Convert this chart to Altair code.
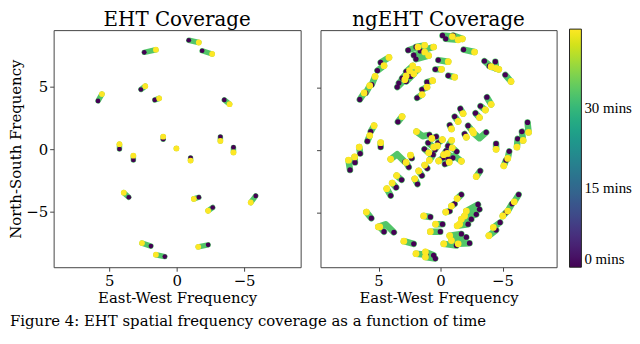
import altair as alt
import pandas as pd

# ---------------- EHT tracks: start (t = 0 min) -> end (t = 45 min) ----------------
eht_u0 = [2.40, -0.90, -1.89, 5.83, 2.65, 1.62, -3.53, 4.24, 3.21, 1.00, 0.02,
          -1.03, -3.24, -4.21, 3.55, -1.64, -2.67, -5.86, 1.91, -2.33, 0.88]
eht_v0 = [7.77, 8.74, 7.90, 3.88, 4.80, 3.96, 3.96, 0.03, -0.84, 0.81, 0.08,
          -0.68, 1.00, 0.16, -3.83, -3.83, -4.65, -3.72, -7.74, -7.64, -8.58]
eht_u1 = [1.54, -1.64, -2.63, 5.54, 2.33, 1.30, -3.92, 4.24, 3.21, 1.00, 0.02,
          -1.03, -3.24, -4.21, 3.92, -1.27, -2.33, -5.49, 2.57, -1.60, 1.54]
eht_v1 = [7.98, 8.56, 7.64, 4.43, 5.06, 4.09, 3.62, 0.42, -0.50, 1.02, 0.08,
          -0.89, 0.68, -0.24, -3.46, -3.96, -4.91, -4.25, -7.50, -7.80, -8.43]

# ---------------- ngEHT straight tracks ----------------
ng_u0 = [2.61, 1.98, 1.63, 2.16, 1.98, 4.83, 5.09, 5.55, 6.03, 6.51, 2.77, 3.10, 3.36,
         3.49, 2.42, 2.77, 1.09, 1.49, 1.89, 0.42, 0.18, 3.44, 5.90, 5.63, 4.83,
         7.30, 6.90, 6.48, 2.32, 2.56, 3.14, 3.58, 4.02, 1.86, 1.50, 1.07, 5.58, 4.56,
         2.16, 1.18, 0.56, 0.42, 0.82, -0.16, 0.02,
         -0.16, -0.42, -1.02, -1.86, -0.62, -3.54, -4.42, -3.94, -5.22, -3.74, -3.22,
         -2.82, -1.60, -1.14, -0.74, -2.22, -1.94, -7.02, -6.56, -6.22, -4.48,
         -5.54, -5.28, -3.20, -1.68, -1.14, -0.74, -3.02, -3.14, -2.88, -2.48, -2.22,
         -1.68, -2.08, -2.34, -1.28, -6.30, -5.76, -5.28, -4.80, -4.48,
         1.00, -1.00, 0.60, -0.60, 0.20, -0.20, 0.45, -0.45, 1.30, -1.30, 0.35, -0.35]
ng_v0 = [8.01, 8.27, 7.95, 7.61, 7.30, 7.03, 6.38, 5.25, 4.59, 4.07, 6.30, 5.77, 5.38,
         5.06, 5.91, 5.51, 5.46, 4.86, 4.20, 6.48, 7.22, 2.28, 0.73, 1.50, 0.26,
         -1.57, -0.97, -0.26, -0.63, -1.34, -2.36, -2.97, -3.62, -2.70, -2.02, -1.44,
         -5.43, -6.51, -7.48, -8.35, -8.40, -8.66, -5.33, -5.91, -6.51,
         9.19, 8.92, 9.19, 8.06, 5.98, 7.14, 7.09, 6.75, 6.04, 4.25, 3.54, 2.97, 3.33,
         2.70, 2.02, 1.97, 1.31, 2.23, 1.50, 0.92, 0.53,
         -0.08, -0.79, -1.65, -3.54, -4.28, -4.86, -4.33, -4.72, -5.12, -5.51, -5.91,
         -6.69, -6.95, -7.43, -7.61, -3.54, -4.28, -4.98, -5.77, -6.38,
         0.60, -0.60, -0.35, 0.35, 0.60, -0.60, 0.05, -0.05, 0.10, -0.10, 1.10, -1.10]
ng_u1 = [1.82, 1.28, 0.56, 1.28, 0.96, 4.16, 4.56, 5.28, 5.71, 6.16, 2.24, 2.50, 2.77,
         2.88, 1.82, 2.16, 0.64, 1.09, 1.49, -0.08, -0.62, 3.10, 5.71, 5.36, 4.83,
         7.42, 6.93, 6.56, 2.42, 2.78, 3.54, 3.90, 4.34, 2.08, 1.76, 1.28, 5.98, 4.90,
         2.96, 1.98, 1.22, 1.22, 1.36, 0.40, 0.82,
         -0.96, -1.42, -1.76, -2.74, -1.14, -4.08, -4.48, -4.70, -5.68, -4.08, -3.62,
         -3.14, -1.82, -1.42, -0.88, -2.56, -2.08, -7.10, -6.66, -6.16, -4.48,
         -5.42, -5.10, -2.88, -1.34, -0.88, -0.42, -2.08, -1.94, -1.68, -1.54, -1.34,
         -0.74, -0.88, -1.42, -0.26, -5.94, -5.42, -5.02, -4.26, -3.90,
         0.55, -0.55, 0.90, -0.90, -0.15, 0.15, 0.25, -0.25, 0.95, -0.95, 0.70, -0.70]
ng_v1 = [8.27, 8.40, 8.27, 7.87, 7.58, 7.43, 6.77, 5.91, 5.17, 4.59, 6.75, 6.38, 5.96,
         5.65, 6.48, 6.12, 5.57, 5.06, 4.46, 6.48, 7.09, 2.70, 1.18, 1.97, 0.61,
         -0.79, -0.53, 0.26, -0.39, -0.97, -2.02, -2.62, -3.07, -2.28, -1.65, -1.18,
         -4.94, -6.12, -7.27, -8.27, -8.13, -8.53, -5.25, -5.91, -6.51,
         9.11, 8.84, 8.92, 7.87, 5.85, 6.69, 6.56, 6.48, 5.51, 3.68, 3.23, 2.62, 2.94,
         2.31, 1.71, 1.57, 1.05, 1.44, 0.79, 0.26, 0.08,
         -0.65, -1.24, -2.10, -3.86, -4.46, -4.94, -4.86, -5.25, -5.51, -5.91, -6.04,
         -6.83, -7.22, -7.48, -7.48, -4.12, -4.86, -5.25, -6.17, -6.83,
         0.25, -0.25, -0.80, 0.80, 0.85, -0.85, 0.35, -0.35, -0.20, 0.20, 0.95, -0.95]

# ---------------- ngEHT curved tracks: start, middle, end ----------------
hook_u0 = [2.88, 3.76, -3.68, -0.62, 0.90]
hook_v0 = [-0.92, -6.56, 1.44, -0.71, 1.24]
hook_um = [3.50, 4.42, -3.14, -1.14, 1.44]
hook_vm = [-0.31, -5.91, 0.97, -0.45, 1.13]
hook_u1 = [4.02, 5.02, -2.66, -1.68, 1.94]
hook_v1 = [-0.71, -6.12, 1.39, -0.87, 1.50]

t_start = 0
t_end = 45
cbar_ticks = [0, 15, 30]
x_ticks = [-5, 0, 5]
y_ticks = [-5, 0, 5]
caption_text = ["Figure 4:  EHT spatial frequency coverage as a function of time"]

FONT = "DejaVu Serif"
CBAR_FONT = "Liberation Serif"
MID_COLOR = "#52c569"


def rows_for(panel, tracks):
    rows = []
    for i, verts in enumerate(tracks):
        n = len(verts)
        for k, (u, v) in enumerate(verts):
            role = "start" if k == 0 else ("end" if k == n - 1 else "mid")
            t = t_start if role == "start" else (t_end if role == "end" else None)
            rows.append(dict(track=f"{panel}{i}", k=k, u=u, v=v, t=t, role=role))
    return rows


eht_tracks = [[(a, b), (c, d)] for a, b, c, d in zip(eht_u0, eht_v0, eht_u1, eht_v1)]
ng_tracks = [[(a, b), (c, d)] for a, b, c, d in zip(ng_u0, ng_v0, ng_u1, ng_v1)]
ng_tracks += [[(a, b), (c, d), (e, f)] for a, b, c, d, e, f in
              zip(hook_u0, hook_v0, hook_um, hook_vm, hook_u1, hook_v1)]

eht_df = pd.DataFrame(rows_for("e", eht_tracks))
ng_df = pd.DataFrame(rows_for("n", ng_tracks))

color = alt.Color(
    "t:Q",
    scale=alt.Scale(scheme="viridis", domain=[t_start, t_end]),
    legend=alt.Legend(
        orient="none", legendX=520, legendY=-1, direction="vertical",
        gradientLength=240, gradientThickness=12, values=cbar_ticks,
        labelExpr="datum.value + ' mins'", labelFont=CBAR_FONT, labelFontSize=15,
        labelColor="black", labelBaseline="middle", labelOffset=3,
        gradientStrokeColor="#222", gradientStrokeWidth=1, title=None,
    ),
)


def panel(df, title, xdom, ydom, width, height, ylabels, lw, s0, s1):
    x = alt.X("u:Q", scale=alt.Scale(domain=xdom, reverse=True, nice=False, zero=False),
              axis=alt.Axis(values=x_ticks, title="East-West Frequency"))
    if ylabels:
        yaxis = alt.Axis(values=y_ticks, title="North-South Frequency")
    else:
        yaxis = alt.Axis(values=y_ticks, labels=False, title=None)
    y = alt.Y("v:Q", scale=alt.Scale(domain=ydom, nice=False, zero=False), axis=yaxis)
    base = alt.Chart(df)
    lines = base.mark_line(strokeWidth=lw, strokeCap="round", strokeJoin="round",
                           color=MID_COLOR).encode(x=x, y=y, detail="track:N", order="k:Q")
    starts = base.transform_filter(alt.datum.role == "start").mark_circle(
        size=s0, opacity=1).encode(x=x, y=y, color=color)
    ends = base.transform_filter(alt.datum.role == "end").mark_circle(
        size=s1, opacity=1).encode(x=x, y=y, color=color)
    return alt.layer(lines, starts, ends).properties(
        width=width, height=height,
        title=alt.TitleParams(title, fontSize=20, font=FONT, fontWeight="normal",
                              color="black", offset=0),
    )


left = panel(eht_df, "EHT Coverage", [-9.19, 9.12], [-9.43, 9.55], 249, 239, True,
             5.5, 22, 34)
right = panel(ng_df, "ngEHT Coverage", [-9.36, 9.68], [-9.35, 9.62], 238, 239, False,
              6.5, 28, 46)

caption = alt.Chart(pd.DataFrame({"caption": caption_text})).mark_text(
    align="left", baseline="top", font=FONT, fontSize=15, color="black"
).encode(
    text="caption:N", x=alt.value(-44), y=alt.value(0)
).properties(width=400, height=15, view=alt.ViewBackground(stroke="transparent"))

top = alt.hconcat(left, right, spacing=14)

chart = (
    alt.vconcat(top, caption, spacing=6)
    .resolve_scale(color="shared")
    .resolve_legend(color="shared")
    .properties(padding={"left": 0, "top": 0, "right": 0, "bottom": 0})
    .configure_view(stroke="#444", strokeWidth=1)
    .configure_axis(
        domain=False, grid=False, tickColor="#444", tickSize=4, tickWidth=1,
        labelFont=FONT, labelFontSize=15, labelColor="black", labelPadding=2,
        titleFont=FONT, titleFontSize=15, titleFontWeight="normal", titleColor="black",
        titlePadding=3,
    )
    .configure_axisY(titlePadding=2)
)

chart.save("out.html", embed_options={"renderer": "svg", "actions": False})
